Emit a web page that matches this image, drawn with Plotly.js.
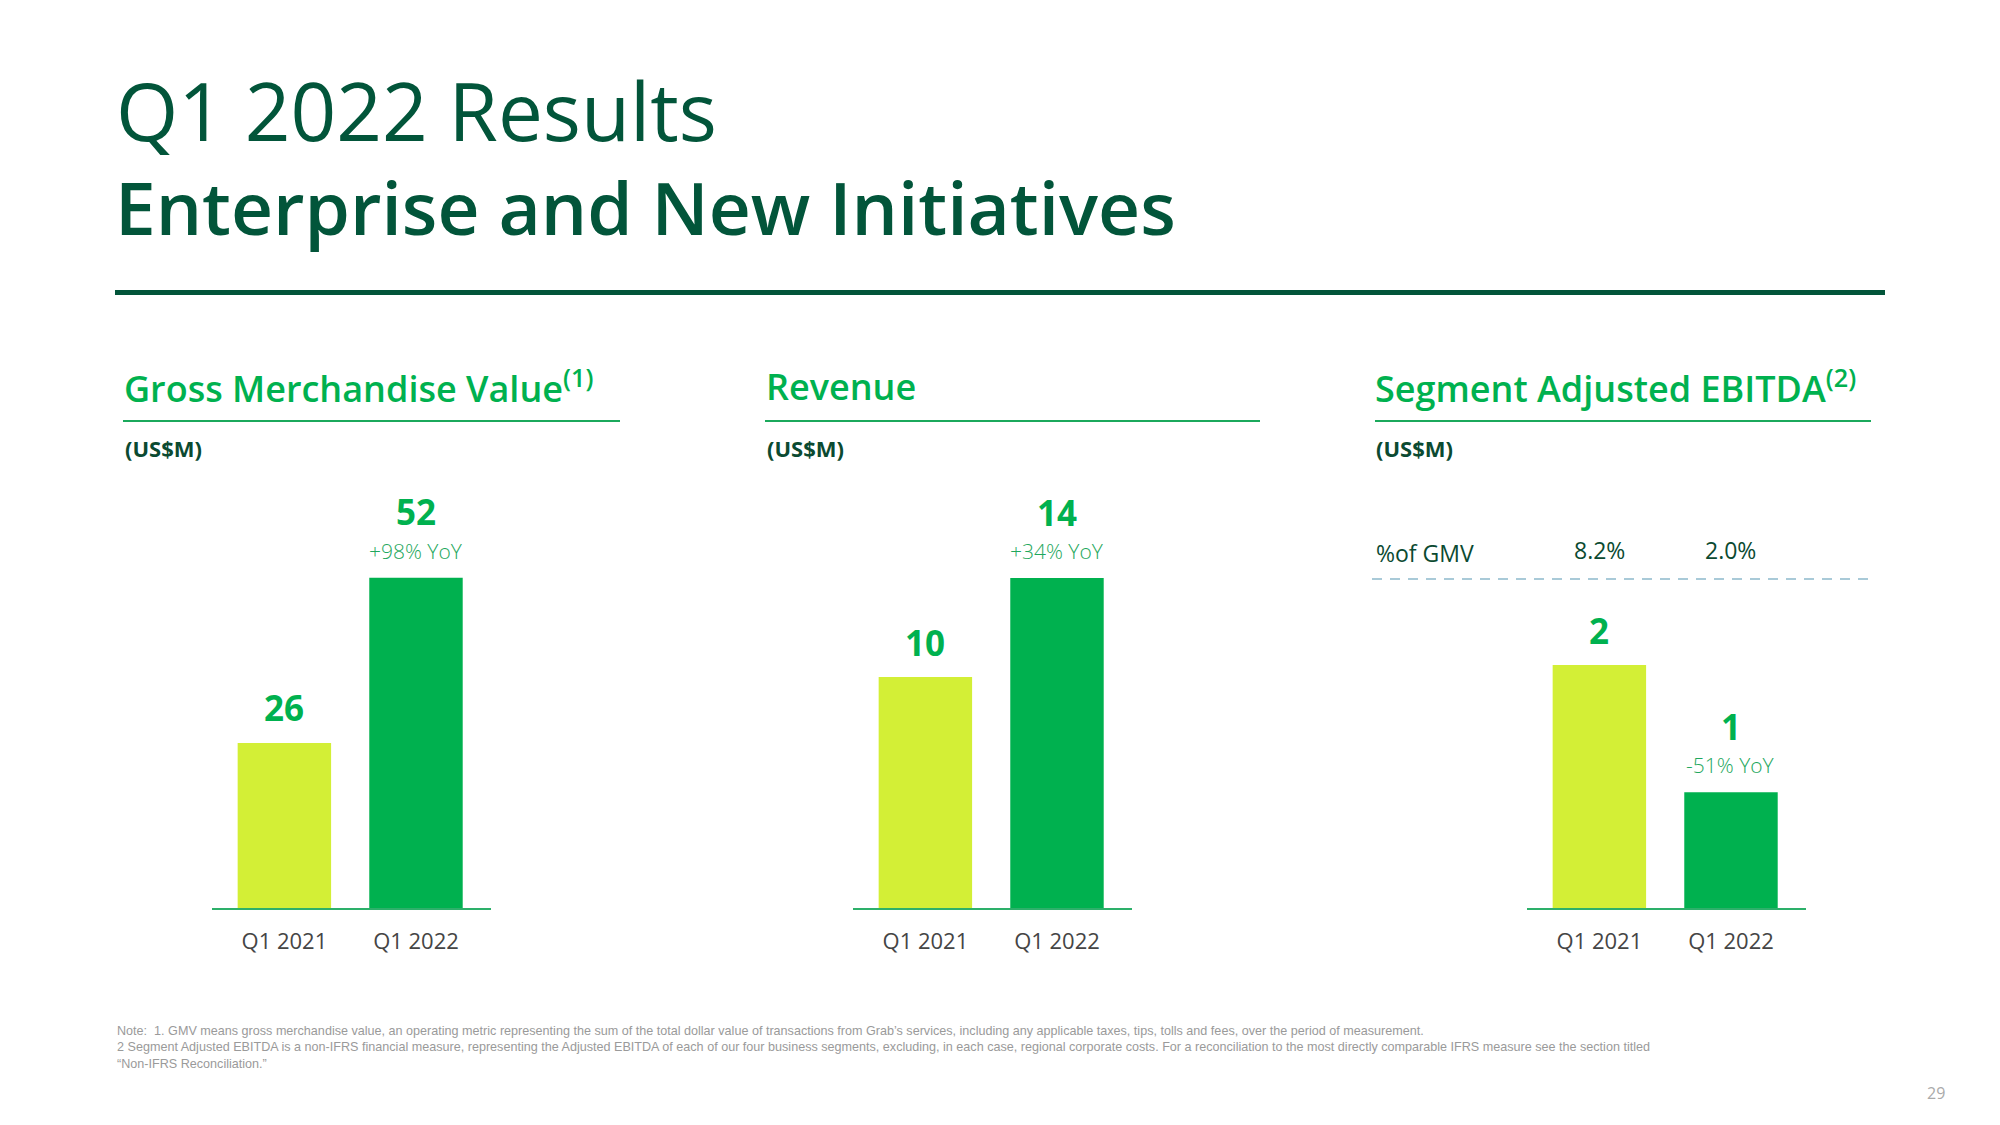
<!DOCTYPE html>
<html>
<head>
<meta charset="utf-8">
<script src="https://cdn.plot.ly/plotly-3.0.1.min.js"></script>
<style>
  html, body { margin: 0; padding: 0; background: #ffffff; }
  #chart { width: 2000px; height: 1125px; }
</style>
</head>
<body>
<div id="chart"></div>
<script>
// ---------------- DATA ----------------
const categories = ["Q1 2021", "Q1 2022"];

const gmvValues = [26, 52];
const gmvLabels = ["26", "52"];
const gmvYoY = "+98% YoY";

const revenueValues = [9.8, 14];
const revenueLabels = ["10", "14"];
const revenueYoY = "+34% YoY";

const ebitdaValues = [2.1, 1.0];
const ebitdaLabels = ["2", "1"];
const ebitdaYoY = "-51% YoY";
const ebitdaPctOfGmv = ["8.2%", "2.0%"];

const pageTitle1 = "Q1 2022 Results";
const pageTitle2 = "Enterprise and New Initiatives";
const panelTitles = ["Gross Merchandise Value<sup>(1)</sup>", "Revenue", "Segment Adjusted EBITDA<sup>(2)</sup>"];
const unitLabel = "(US$M)";
const pctRowLabel = "%of GMV";
const noteLines = [
  "Note:  1. GMV means gross merchandise value, an operating metric representing the sum of the total dollar value of transactions from Grab\u2019s services, including any applicable taxes, tips, tolls and fees, over the period of measurement.",
  "2 Segment Adjusted EBITDA is a non-IFRS financial measure, representing the Adjusted EBITDA of each of our four business segments, excluding, in each case, regional corporate costs. For a reconciliation to the most directly comparable IFRS measure see the section titled",
  "\u201cNon-IFRS Reconciliation.\u201d"
];
const pageNumber = "29";

// ---------------- STYLE ----------------
const W = 2000, H = 1125;
const DARK = "#02553A";
const GREEN = "#00B14F";
const LIME = "#D3EF36";
const FONT = "Open Sans";
const px = v => v / W;
const py = v => 1 - v / H;

const barColors = [LIME, GREEN];
const xRange = [-0.55, 1.57];

const panels = [
  { vals: gmvValues, labels: gmvLabels, yoy: gmvYoY, xd: [212, 491], yTop: 400, yMax: 80 },
  { vals: revenueValues, labels: revenueLabels, yoy: revenueYoY, xd: [853, 1132], yTop: 436.6, yMax: 20 },
  { vals: ebitdaValues, labels: ebitdaLabels, yoy: ebitdaYoY, xd: [1527, 1806], yTop: 561, yMax: 3 }
];
const baseY = 908;

const traces = [];
const layout = {
  width: W, height: H,
  margin: { l: 0, r: 0, t: 0, b: 0 },
  paper_bgcolor: "#ffffff",
  plot_bgcolor: "rgba(0,0,0,0)",
  showlegend: false,
  font: { family: FONT, color: DARK },
  annotations: [],
  shapes: []
};

panels.forEach((p, i) => {
  const n = i + 1;
  const xa = "x" + (n === 1 ? "" : n), ya = "y" + (n === 1 ? "" : n);
  traces.push({
    type: "bar",
    x: categories,
    y: p.vals,
    xaxis: xa, yaxis: ya,
    width: 0.71,
    marker: { color: barColors, line: { width: 0 } },
    hoverinfo: "none"
  });
  layout["xaxis" + (n === 1 ? "" : n)] = {
    domain: [px(p.xd[0]), px(p.xd[1])],
    anchor: ya,
    type: "category",
    range: xRange,
    showline: true, linecolor: "#2DB06A", linewidth: 1.5,
    showgrid: false, zeroline: false, ticks: "",
    ticklabelstandoff: 13,
    tickfont: { family: FONT, size: 22, color: "#454545" },
    fixedrange: true
  };
  layout["yaxis" + (n === 1 ? "" : n)] = {
    domain: [py(baseY), py(p.yTop)],
    anchor: xa,
    range: [0, p.yMax],
    visible: false, showgrid: false, zeroline: false,
    fixedrange: true
  };
  p.vals.forEach((v, j) => {
    const hasYoY = j === 1;
    layout.annotations.push({
      xref: xa, yref: ya, x: categories[j], y: v,
      text: "<b>" + p.labels[j] + "</b>",
      showarrow: false, xanchor: "center", yanchor: "middle",
      yshift: hasYoY ? 66 : 35,
      font: { family: FONT, size: 35, color: GREEN }
    });
    if (hasYoY) {
      layout.annotations.push({
        xref: xa, yref: ya, x: categories[j], y: v,
        text: p.yoy,
        showarrow: false, xanchor: "center", yanchor: "middle",
        yshift: 27,
        font: { family: FONT, size: 21, color: "#1FA85E", weight: 300 }
      });
    }
  });
});

// page titles
layout.annotations.push({
  xref: "paper", yref: "paper", x: px(114), y: py(110),
  text: pageTitle1, showarrow: false, xanchor: "left", yanchor: "middle",
  font: { family: FONT, size: 80, color: DARK, weight: 500 }
});
layout.annotations.push({
  xref: "paper", yref: "paper", x: px(113), y: py(206),
  text: pageTitle2, showarrow: false, xanchor: "left", yanchor: "middle",
  font: { family: FONT, size: 73, color: DARK, weight: 600 }
});
layout.shapes.push({
  type: "line", xref: "paper", yref: "paper",
  x0: px(115), x1: px(1885), y0: py(292.5), y1: py(292.5),
  line: { color: DARK, width: 5 }
});

// panel headers
const headerX = [125, 767, 1376];
const underline = [[123, 620], [765, 1260], [1375, 1871]];
panelTitles.forEach((t, i) => {
  layout.annotations.push({
    xref: "paper", yref: "paper", x: px(headerX[i] - 3), y: py(387),
    text: t, showarrow: false, xanchor: "left", yanchor: "middle",
    font: { family: FONT, size: 36, color: GREEN, weight: 600 }
  });
  layout.shapes.push({
    type: "line", xref: "paper", yref: "paper",
    x0: px(underline[i][0]), x1: px(underline[i][1]), y0: py(421), y1: py(421),
    line: { color: "#1BA95C", width: 2 }
  });
  layout.annotations.push({
    xref: "paper", yref: "paper", x: px(headerX[i] - 2), y: py(448),
    text: "<b>" + unitLabel + "</b>", showarrow: false, xanchor: "left", yanchor: "middle",
    font: { family: FONT, size: 22, color: "#0B4A31" }
  });
});

// EBITDA % of GMV row
layout.annotations.push({
  xref: "paper", yref: "paper", x: px(1374), y: py(553),
  text: pctRowLabel, showarrow: false, xanchor: "left", yanchor: "middle",
  font: { family: FONT, size: 23, color: "#0B4A31" }
});
ebitdaPctOfGmv.forEach((t, j) => {
  layout.annotations.push({
    xref: "x3", yref: "paper", x: categories[j], y: py(550),
    text: t, showarrow: false, xanchor: "center", yanchor: "middle",
    font: { family: FONT, size: 23, color: "#0B4A31" }
  });
});
layout.shapes.push({
  type: "line", xref: "paper", yref: "paper",
  x0: px(1372), x1: px(1872), y0: py(579), y1: py(579),
  line: { color: "#A9CAD8", width: 2, dash: "10px,8px" }
});

// footnotes
const noteY = [1031, 1047, 1064];
noteLines.forEach((t, i) => {
  layout.annotations.push({
    xref: "paper", yref: "paper", x: px(115), y: py(noteY[i]),
    text: t, showarrow: false, xanchor: "left", yanchor: "middle",
    font: { family: "Liberation Sans", size: 12.6, color: "#9A9A9A" }
  });
});
layout.annotations.push({
  xref: "paper", yref: "paper", x: px(1936), y: py(1093),
  text: pageNumber, showarrow: false, xanchor: "center", yanchor: "middle",
  font: { family: FONT, size: 16, color: "#AAAAAA" }
});

Plotly.newPlot("chart", traces, layout, { staticPlot: true, displayModeBar: false });
</script>
</body>
</html>
